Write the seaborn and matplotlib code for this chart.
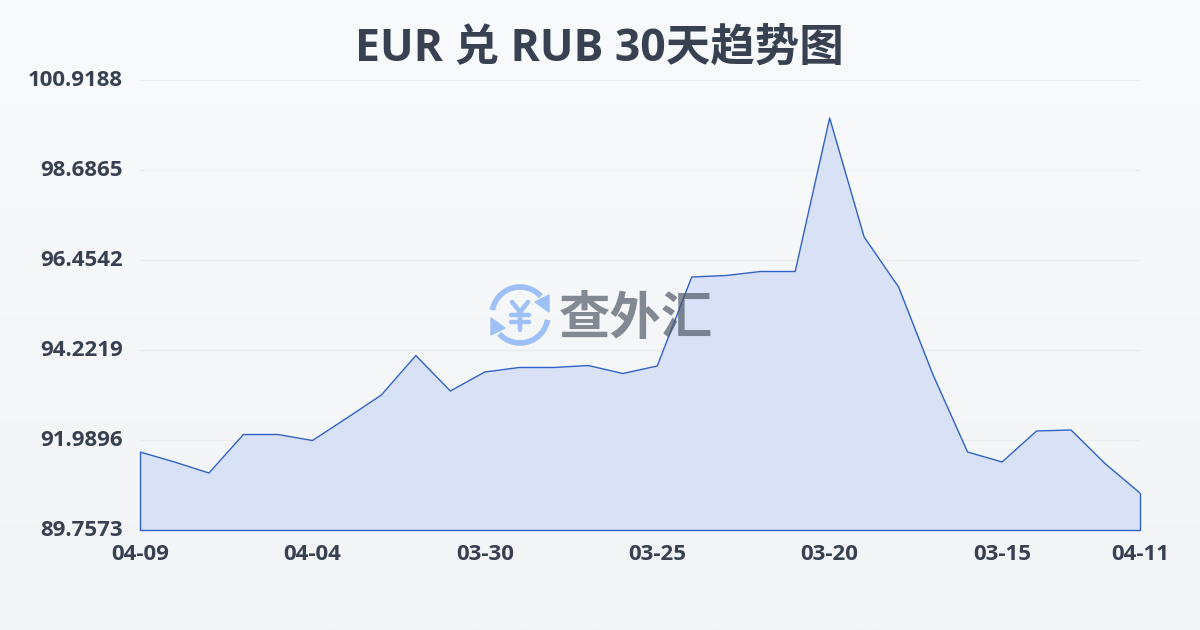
# ---------- Imports ----------

import numpy as np
import pandas as pd
import matplotlib
matplotlib.use("Agg")
import matplotlib.pyplot as plt
from matplotlib.patches import Arc, Polygon
from matplotlib.transforms import ScaledTranslation
import seaborn as sns

# ---------- Data ----------

rates = [91.692, 91.444, 91.171, 92.126, 92.126, 91.977, 92.535, 93.106, 94.085, 93.205,
         93.676, 93.788, 93.788, 93.837, 93.639, 93.825, 96.032, 96.070, 96.169, 96.169,
         99.976, 97.025, 95.784, 93.602, 91.692, 91.444, 92.213, 92.238, 91.394, 90.675]
days = list(range(30))

x_tick_pos = [0, 5, 10, 15, 20, 25, 29]
x_tick_labels = ["04-09", "04-04", "03-30", "03-25", "03-20", "03-15", "04-11"]
y_ticks = [89.7573, 91.9896, 94.2219, 96.4542, 98.6865, 100.9188]
y_tick_labels = ["89.7573", "91.9896", "94.2219", "96.4542", "98.6865", "100.9188"]

df = pd.DataFrame({"day": days, "rate": rates})

# ---------- Plot ----------

sns.set_theme(style="white")
plt.rcParams["font.family"] = ["Open Sans", "Noto Sans CJK SC", "DejaVu Sans"]

text_color = "#374151"
line_color = "#2f62c9"

fig = plt.figure(figsize=(12, 6.3), dpi=100)

# background gradient
bg = fig.add_axes([0, 0, 1, 1], zorder=0)
bg.imshow(np.linspace(0, 1, 256).reshape(-1, 1),
          aspect="auto", extent=[0, 1200, 630, 0],
          cmap=matplotlib.colors.LinearSegmentedColormap.from_list("bg", ["#f9fafc", "#f3f4f6"]))
bg.set_xlim(0, 1200)
bg.set_ylim(630, 0)
bg.axis("off")

ax = fig.add_axes([140 / 1200, 1 - 530 / 630, 1000 / 1200, 450 / 630], zorder=1)
ax.patch.set_alpha(0)

ax.fill_between(df["day"], df["rate"], y_ticks[0], color="#d8e1f5", linewidth=0, zorder=1)
sns.lineplot(data=df, x="day", y="rate", color=line_color, linewidth=1, ax=ax, zorder=4)
ax.plot([0, 0, 29, 29], [rates[0], y_ticks[0], y_ticks[0], rates[-1]],
        color=line_color, linewidth=1, zorder=4, clip_on=False)

ax.set_xlim(0, 29)
ax.set_ylim(y_ticks[0], y_ticks[-1])
ax.set_xticks(x_tick_pos)
ax.set_xticklabels(x_tick_labels, fontsize=16, fontweight="bold", color=text_color)
ax.set_yticks(y_ticks)
ax.set_yticklabels(y_tick_labels, fontsize=16, fontweight="bold", color=text_color)
ax.tick_params(axis="x", length=7, width=1, color="#e5e7eb", pad=3)
ax.tick_params(axis="y", length=0, pad=12.5)
# y labels sit slightly above their grid lines
for lab in ax.get_yticklabels():
    lab.set_transform(lab.get_transform() + ScaledTranslation(0, 2 / 100, fig.dpi_scale_trans))
ax.set_xlabel("")
ax.set_ylabel("")
ax.grid(axis="y", color="#e9ebef", linewidth=1, zorder=0)
ax.set_axisbelow(True)
sns.despine(ax=ax, left=True, bottom=True)

fig.text(0.4992, 1 - 49 / 630, "EUR 兑 RUB 30天趋势图", ha="center", va="center",
         fontsize=32, fontweight="bold", color=text_color)

# watermark logo and text, on top of the chart
wm = fig.add_axes([0, 0, 1, 1], zorder=2)
wm.set_xlim(0, 1200)
wm.set_ylim(630, 0)
wm.axis("off")
logo_color = "#9cc0f7"
wm.add_patch(Arc((520, 315), 56, 56, theta1=190, theta2=318, color=logo_color, lw=4))
wm.add_patch(Arc((520, 315), 56, 56, theta1=10, theta2=138, color=logo_color, lw=4))
wm.add_patch(Polygon([[549, 312], [549, 295], [535, 302]], color=logo_color))
wm.add_patch(Polygon([[491, 318], [491, 335], [505, 328]], color=logo_color))
# yen sign of the logo
for xs, ys in [([512, 520, 528], [302, 312, 302]), ([520, 520], [312, 330]),
               ([511, 529], [315, 315]), ([511, 529], [322, 322])]:
    wm.plot(xs, ys, color=logo_color, lw=3.2, solid_capstyle="round", solid_joinstyle="round")
wm.set_xlim(0, 1200)
wm.set_ylim(630, 0)
wm.text(636, 321, "查外汇", ha="center", va="center", fontsize=37, fontweight="bold",
        color="#4b5563", alpha=0.68)

fig.savefig("out.png", dpi=100)
